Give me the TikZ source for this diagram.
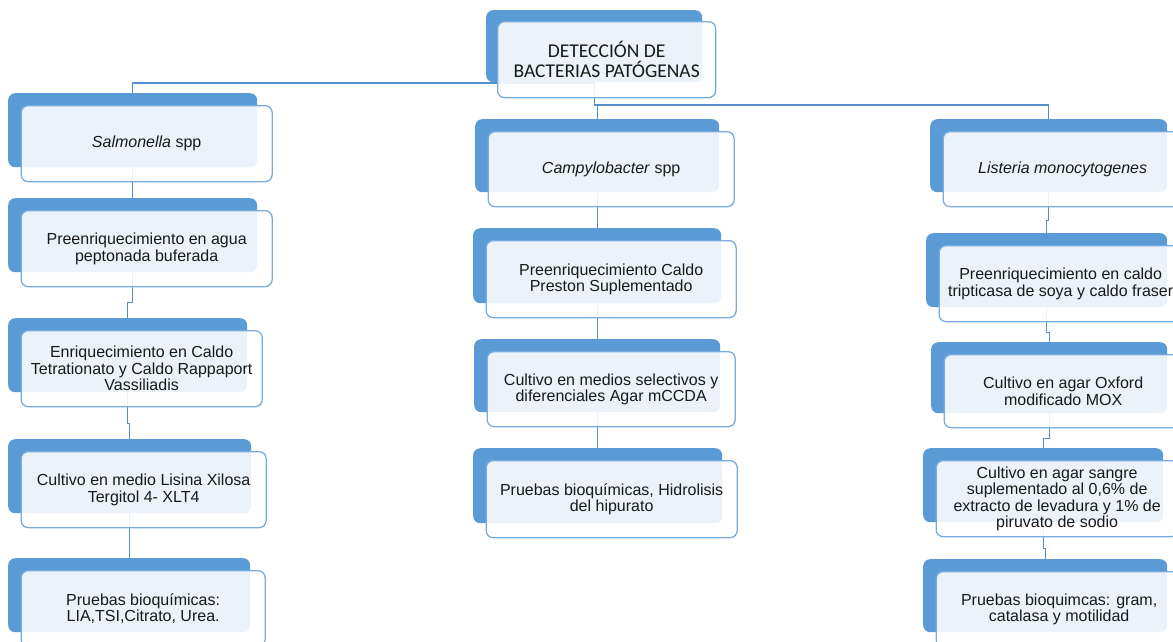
\documentclass[tikz,border=0pt]{standalone}
\usepackage{fontspec}
\setmainfont{Liberation Sans}
\newfontfamily\headfont{Carlito}
\usetikzlibrary{calc}
\pgfdeclarelayer{paper}
\pgfdeclarelayer{links}
\pgfsetlayers{paper,links,main}
\definecolor{accent}{RGB}{91,155,213}
\definecolor{rim}{RGB}{120,172,222}
\definecolor{linkblue}{RGB}{84,143,202}
\definecolor{ink}{RGB}{25,25,25}
\tikzset{
  backbox/.style={draw=none, fill=accent, rounded corners=7pt, inner sep=0pt, anchor=north west},
  frontbox/.style={draw=rim, line width=1.3pt, fill=white, fill opacity=0.88, text opacity=1,
    rounded corners=7pt, anchor=north west, align=center, text=ink, inner sep=2pt,
    font=\fontsize{16}{16.5}\selectfont},
  headtext/.style={font=\headfont\fontsize{19.5}{19.5}\selectfont},
  link/.style={draw=linkblue, line width=1.1pt},
}
% #1 name, #2 left, #3 top, #4 width, #5 height, #6 text
\newcommand\flowbox[6]{%
  \node[backbox, minimum width=#4, minimum height=#5] (b#1) at (#2,#3) {};
  \node[frontbox, minimum width=#4+2, minimum height=#5+2] (#1) at (#2+12.5,#3+12) {#6};
}
\begin{document}
\begin{tikzpicture}[x=1pt,y=-1pt]
  \useasboundingbox (0,0) rectangle (1173,641);
  \clip (0,0) rectangle (1173,641);
  \begin{pgfonlayer}{paper}
    \fill[white] (0,0) rectangle (1173,641);
  \end{pgfonlayer}

  % title
  \node[backbox, minimum width=216, minimum height=72] (btop) at (486,10) {};
  \node[frontbox, headtext, minimum width=218, minimum height=76] (top) at (497,21)
    {DETECCIÓN DE\\BACTERIAS PATÓGENAS};

  % Salmonella
  \flowbox{s1}{8}{93}{249}{74}{\textit{Salmonella} spp}
  \flowbox{s2}{8}{198}{249}{74}{Preenriquecimiento en agua\\peptonada buferada}
  \flowbox{s3}{8}{318}{239}{74}{Enriquecimiento en Caldo\\Tetrationato y Caldo Rappaport\\Vassiliadis}
  \flowbox{s4}{8}{439}{243}{74}{Cultivo en medio Lisina Xilosa\\Tergitol 4- XLT4}
  \flowbox{s5}{8}{558}{242}{74}{Pruebas bioquímicas:\\LIA,TSI,Citrato, Urea.}

  % Campylobacter
  \flowbox{c1}{475}{119}{244}{73}{\textit{Campylobacter} spp}
  \flowbox{c2}{473}{228}{248}{75}{Preenriquecimiento Caldo\\Preston Suplementado}
  \flowbox{c3}{474}{339}{246}{73}{Cultivo en medios selectivos y\\diferenciales Agar mCCDA}
  \flowbox{c4}{473}{448}{249}{75}{Pruebas bioquímicas, Hidrolisis\\del hipurato}

  % Listeria
  \flowbox{l1}{930}{119}{237}{73}{\textit{Listeria monocytogenes}}
  \flowbox{l2}{926}{233}{241}{74}{Preenriquecimiento en caldo\\tripticasa de soya y caldo fraser}
  \flowbox{l3}{931}{342}{236}{71}{Cultivo en agar Oxford\\modificado MOX}
  \flowbox{l4}{923}{448}{240}{74}{Cultivo en agar sangre\\suplementado al 0,6\% de\\extracto de levadura y 1\% de\\piruvato de sodio}
  \flowbox{l5}{923}{559}{244}{73}{Pruebas bioquimcas: gram,\\catalasa y motilidad}

  % connectors, kept underneath the boxes
  \begin{pgfonlayer}{links}
    \coordinate (jl) at (btop.center |- 0,83);
    \coordinate (jr) at (btop.center |- 0,105);
    \draw[link] (btop.center) -- (jr);
    \draw[link] (jl) -| (bs1.center);
    \draw[link] (jr) -| (bc1.center);
    \draw[link] (jr) -| (bl1.center);
    \foreach \a/\b in {s1/s2,s2/s3,s3/s4,s4/s5,c1/c2,c2/c3,c3/c4,l1/l2,l2/l3,l3/l4,l4/l5}{
      \coordinate (m) at ($(\a.south)!0.5!(b\b.north)$);
      \draw[link] (b\a.center) -- (b\a.center |- m) -| (b\b.center);
    }
  \end{pgfonlayer}
\end{tikzpicture}
\end{document}
